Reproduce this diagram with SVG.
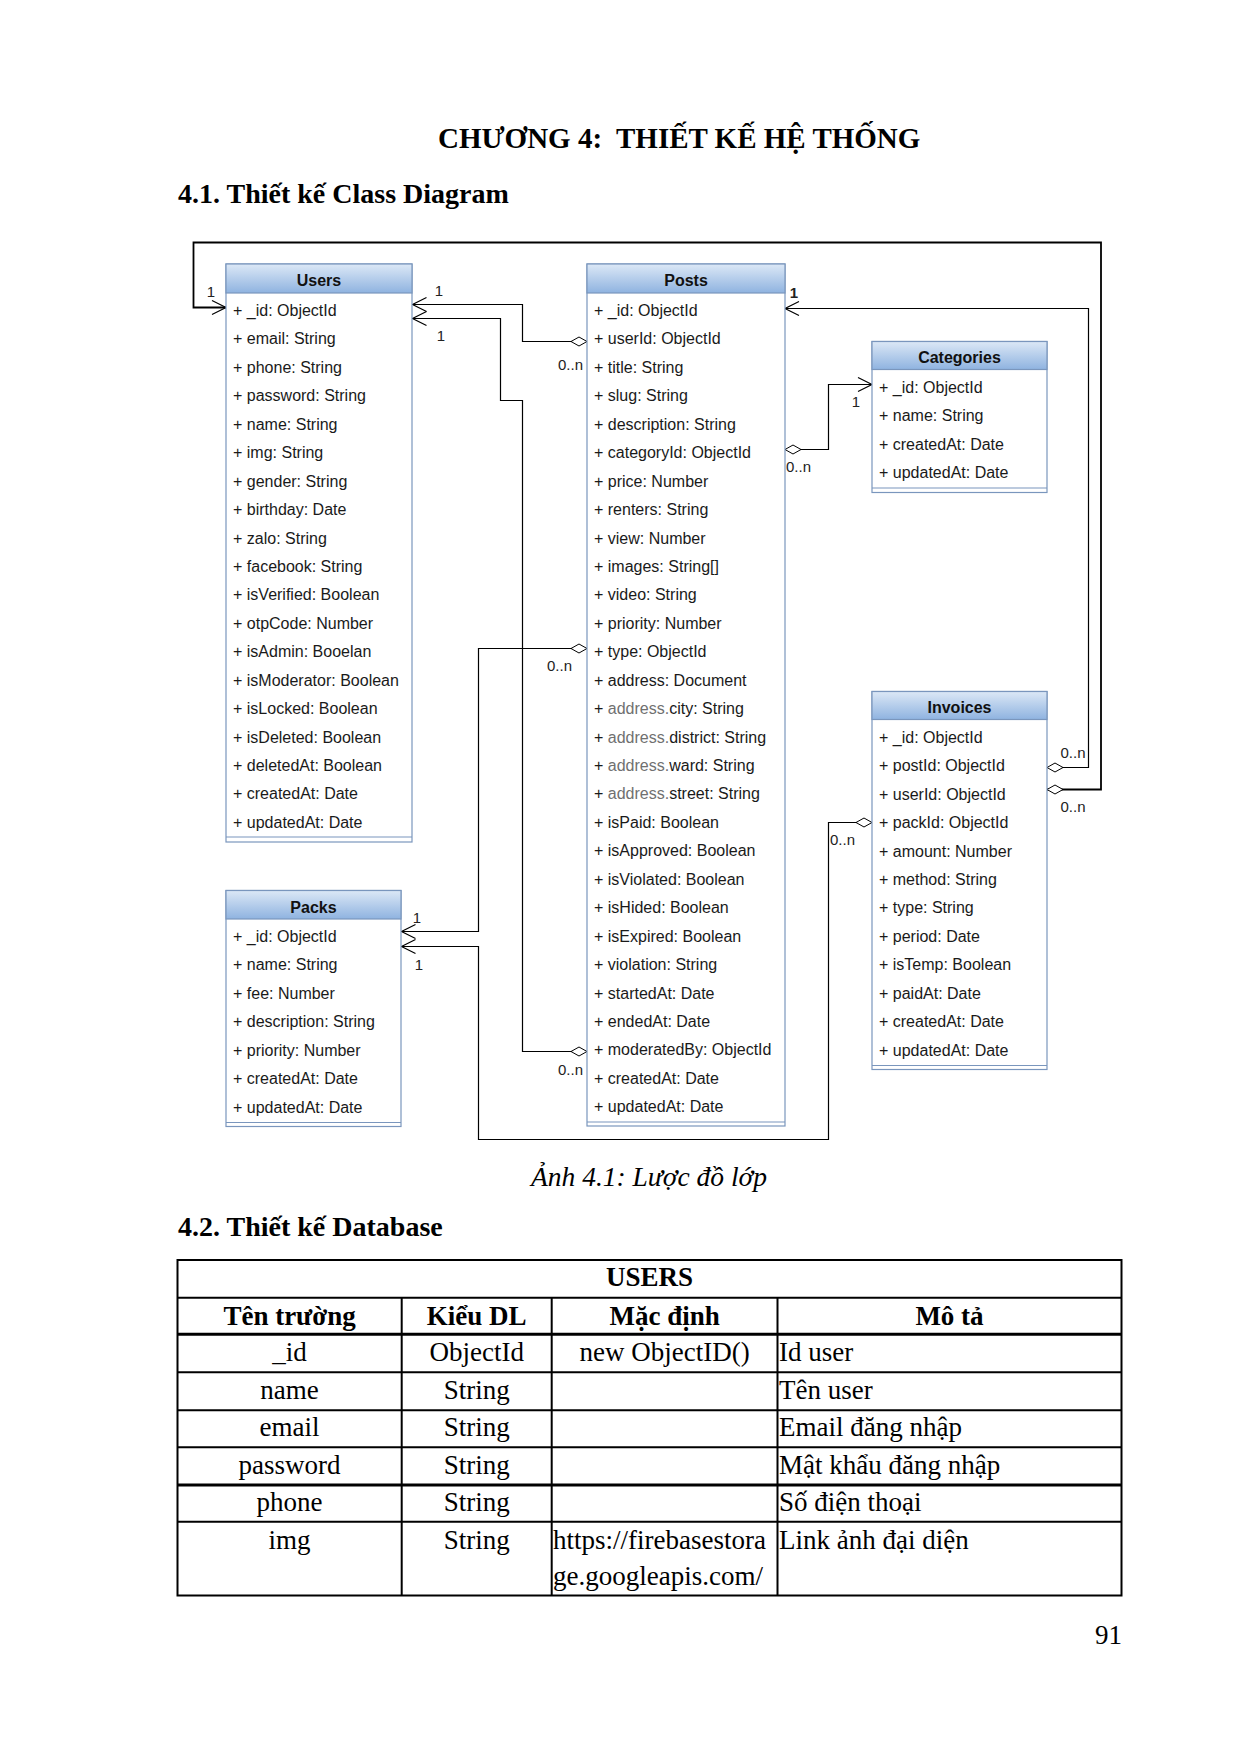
<svg xmlns="http://www.w3.org/2000/svg" width="1240" height="1754" viewBox="0 0 1240 1754">
<defs>
<linearGradient id="hdr" x1="0" y1="0" x2="0" y2="1">
<stop offset="0" stop-color="#dce8f6"/>
<stop offset="1" stop-color="#8fb3e0"/>
</linearGradient>
<marker id="arrow" markerUnits="userSpaceOnUse" markerWidth="18" markerHeight="18" viewBox="0 0 18 18" refX="15" refY="9" orient="auto">
<path d="M1,2 L15,9 L1,16" fill="none" stroke="#000" stroke-width="1.2"/>
</marker>
<marker id="diamond" markerUnits="userSpaceOnUse" markerWidth="20" markerHeight="12" viewBox="0 0 20 12" refX="1" refY="6" orient="auto">
<path d="M1,6 L9,1.5 L17,6 L9,10.5 Z" fill="#fff" stroke="#000" stroke-width="1"/>
</marker>
</defs>
<style>
.box{fill:#fff;stroke:#7a96bd;stroke-width:1.2}
.hd{fill:url(#hdr);stroke:#7a96bd;stroke-width:1.2}
.sep{stroke:#7a96bd;stroke-width:1.2}
.cn{font-family:"Liberation Sans",Arial,sans-serif;font-size:16px;font-weight:bold;fill:#111;text-anchor:middle}
.at{font-family:"Liberation Sans",Arial,sans-serif;font-size:16px;fill:#1a1a1a}
.gr{fill:#707070}
.ml{font-family:"Liberation Sans",Arial,sans-serif;font-size:15px;fill:#222}
.con{fill:none;stroke:#000;stroke-width:1.2;marker-start:url(#diamond);marker-end:url(#arrow)}
.h1{font-family:"Liberation Serif","Times New Roman",serif;font-size:29px;font-weight:bold;fill:#000}
.h2{font-family:"Liberation Serif","Times New Roman",serif;font-size:28px;font-weight:bold;fill:#000}
.cap{font-family:"Liberation Serif","Times New Roman",serif;font-size:27.5px;font-style:italic;fill:#000;text-anchor:middle}
.tb{font-family:"Liberation Serif","Times New Roman",serif;font-size:27px;fill:#000}
.tbb{font-family:"Liberation Serif","Times New Roman",serif;font-size:27px;font-weight:bold;fill:#000;text-anchor:middle}
.c{text-anchor:middle}
.tl{stroke:#000;stroke-width:2;fill:none}
.tl3{stroke:#000;stroke-width:3;fill:none}
</style>
<rect width="1240" height="1754" fill="#fff"/>

<text class="h1" x="438" y="148">CHƯƠNG 4:&#160; THIẾT KẾ HỆ THỐNG</text>
<text class="h2" x="178" y="203">4.1. Thiết kế Class Diagram</text>

<g id="connectors">
<path class="con" d="M1047,789.5 H1101 V242.5 H193.5 V307.5 H226" style="stroke-width:1.8"/>
<path class="con" d="M1047,767.5 H1088.5 V308.5 H785"/>
<path class="con" d="M587,341.5 H522.5 V304.5 H412.5"/>
<path class="con" d="M587,1051.5 H522.5 V400.5 H500.5 V318.5 H412.5"/>
<path class="con" d="M587,648.5 H478.5 V931.5 H401.5"/>
<path class="con" d="M872,822.5 H828.5 V1139.5 H478.5 V946.5 H401.5"/>
<path class="con" d="M785,449.5 H828.5 V384.5 H872"/>
<text class="ml c" x="211" y="297">1</text>
<text class="ml c" x="439" y="295.5">1</text>
<text class="ml c" x="441" y="341">1</text>
<text class="ml" x="583" y="369.5" text-anchor="end">0..n</text>
<text class="ml c" x="794" y="297.5" font-weight="bold">1</text>
<text class="ml c" x="856" y="407">1</text>
<text class="ml" x="786" y="472">0..n</text>
<text class="ml c" x="559.5" y="671">0..n</text>
<text class="ml c" x="1073" y="757.5">0..n</text>
<text class="ml c" x="1073" y="812">0..n</text>
<text class="ml" x="830" y="844.5">0..n</text>
<text class="ml c" x="417" y="922.5">1</text>
<text class="ml c" x="419" y="969.5">1</text>
<text class="ml" x="583" y="1074.5" text-anchor="end">0..n</text>
</g>

<g id="users">
<rect class="box" x="226" y="264" width="186" height="578"/>
<rect class="hd" x="226" y="264" width="186" height="29"/>
<line class="sep" x1="226" y1="837" x2="412" y2="837"/>
<text class="cn" x="319" y="286">Users</text>
<text class="at" x="233" y="316">+ _id: ObjectId</text>
<text class="at" x="233" y="344.44">+ email: String</text>
<text class="at" x="233" y="372.88">+ phone: String</text>
<text class="at" x="233" y="401.32">+ password: String</text>
<text class="at" x="233" y="429.76">+ name: String</text>
<text class="at" x="233" y="458.2">+ img: String</text>
<text class="at" x="233" y="486.64">+ gender: String</text>
<text class="at" x="233" y="515.08">+ birthday: Date</text>
<text class="at" x="233" y="543.52">+ zalo: String</text>
<text class="at" x="233" y="571.96">+ facebook: String</text>
<text class="at" x="233" y="600.4">+ isVerified: Boolean</text>
<text class="at" x="233" y="628.84">+ otpCode: Number</text>
<text class="at" x="233" y="657.28">+ isAdmin: Booelan</text>
<text class="at" x="233" y="685.72">+ isModerator: Boolean</text>
<text class="at" x="233" y="714.16">+ isLocked: Boolean</text>
<text class="at" x="233" y="742.6">+ isDeleted: Boolean</text>
<text class="at" x="233" y="771.04">+ deletedAt: Boolean</text>
<text class="at" x="233" y="799.48">+ createdAt: Date</text>
<text class="at" x="233" y="827.92">+ updatedAt: Date</text>
</g>

<g id="posts">
<rect class="box" x="587" y="264" width="198" height="862"/>
<rect class="hd" x="587" y="264" width="198" height="29"/>
<line class="sep" x1="587" y1="1122" x2="785" y2="1122"/>
<text class="cn" x="686" y="286">Posts</text>
<text class="at" x="594" y="316">+ _id: ObjectId</text>
<text class="at" x="594" y="344.44">+ userId: ObjectId</text>
<text class="at" x="594" y="372.88">+ title: String</text>
<text class="at" x="594" y="401.32">+ slug: String</text>
<text class="at" x="594" y="429.76">+ description: String</text>
<text class="at" x="594" y="458.2">+ categoryId: ObjectId</text>
<text class="at" x="594" y="486.64">+ price: Number</text>
<text class="at" x="594" y="515.08">+ renters: String</text>
<text class="at" x="594" y="543.52">+ view: Number</text>
<text class="at" x="594" y="571.96">+ images: String[]</text>
<text class="at" x="594" y="600.4">+ video: String</text>
<text class="at" x="594" y="628.84">+ priority: Number</text>
<text class="at" x="594" y="657.28">+ type: ObjectId</text>
<text class="at" x="594" y="685.72">+ address: Document</text>
<text class="at" x="594" y="714.16">+ <tspan class="gr">address.</tspan>city: String</text>
<text class="at" x="594" y="742.6">+ <tspan class="gr">address.</tspan>district: String</text>
<text class="at" x="594" y="771.04">+ <tspan class="gr">address.</tspan>ward: String</text>
<text class="at" x="594" y="799.48">+ <tspan class="gr">address.</tspan>street: String</text>
<text class="at" x="594" y="827.92">+ isPaid: Boolean</text>
<text class="at" x="594" y="856.36">+ isApproved: Boolean</text>
<text class="at" x="594" y="884.8">+ isViolated: Boolean</text>
<text class="at" x="594" y="913.24">+ isHided: Boolean</text>
<text class="at" x="594" y="941.68">+ isExpired: Boolean</text>
<text class="at" x="594" y="970.12">+ violation: String</text>
<text class="at" x="594" y="998.56">+ startedAt: Date</text>
<text class="at" x="594" y="1027">+ endedAt: Date</text>
<text class="at" x="594" y="1055.44">+ moderatedBy: ObjectId</text>
<text class="at" x="594" y="1083.88">+ createdAt: Date</text>
<text class="at" x="594" y="1112.32">+ updatedAt: Date</text>
</g>

<g id="categories">
<rect class="box" x="872" y="341.5" width="175" height="151"/>
<rect class="hd" x="872" y="341.5" width="175" height="28"/>
<line class="sep" x1="872" y1="488" x2="1047" y2="488"/>
<text class="cn" x="959.5" y="363">Categories</text>
<text class="at" x="879" y="392.7">+ _id: ObjectId</text>
<text class="at" x="879" y="421.1">+ name: String</text>
<text class="at" x="879" y="449.6">+ createdAt: Date</text>
<text class="at" x="879" y="478">+ updatedAt: Date</text>
</g>

<g id="invoices">
<rect class="box" x="872" y="691.5" width="175" height="378"/>
<rect class="hd" x="872" y="691.5" width="175" height="28"/>
<line class="sep" x1="872" y1="1065.5" x2="1047" y2="1065.5"/>
<text class="cn" x="959.5" y="713">Invoices</text>
<text class="at" x="879" y="742.7">+ _id: ObjectId</text>
<text class="at" x="879" y="771.1">+ postId: ObjectId</text>
<text class="at" x="879" y="799.6">+ userId: ObjectId</text>
<text class="at" x="879" y="828">+ packId: ObjectId</text>
<text class="at" x="879" y="856.5">+ amount: Number</text>
<text class="at" x="879" y="884.9">+ method: String</text>
<text class="at" x="879" y="913.3">+ type: String</text>
<text class="at" x="879" y="941.8">+ period: Date</text>
<text class="at" x="879" y="970.2">+ isTemp: Boolean</text>
<text class="at" x="879" y="998.7">+ paidAt: Date</text>
<text class="at" x="879" y="1027.1">+ createdAt: Date</text>
<text class="at" x="879" y="1055.5">+ updatedAt: Date</text>
</g>

<g id="packs">
<rect class="box" x="226" y="890.5" width="175" height="236"/>
<rect class="hd" x="226" y="890.5" width="175" height="28.5"/>
<line class="sep" x1="226" y1="1122.5" x2="401" y2="1122.5"/>
<text class="cn" x="313.5" y="912.5">Packs</text>
<text class="at" x="233" y="942">+ _id: ObjectId</text>
<text class="at" x="233" y="970.4">+ name: String</text>
<text class="at" x="233" y="998.9">+ fee: Number</text>
<text class="at" x="233" y="1027.3">+ description: String</text>
<text class="at" x="233" y="1055.8">+ priority: Number</text>
<text class="at" x="233" y="1084.2">+ createdAt: Date</text>
<text class="at" x="233" y="1112.6">+ updatedAt: Date</text>
</g>

<text class="cap" x="649" y="1186">Ảnh 4.1: Lược đồ lớp</text>
<text class="h2" x="178" y="1236">4.2. Thiết kế Database</text>

<g id="users-table">
<rect class="tl" x="177.5" y="1260" width="944" height="335.5"/>
<line class="tl" x1="177.5" y1="1297.7" x2="1121.5" y2="1297.7"/>
<line class="tl3" x1="177.5" y1="1334.3" x2="1121.5" y2="1334.3"/>
<line class="tl" x1="177.5" y1="1372.3" x2="1121.5" y2="1372.3"/>
<line class="tl" x1="177.5" y1="1410.3" x2="1121.5" y2="1410.3"/>
<line class="tl" x1="177.5" y1="1447.3" x2="1121.5" y2="1447.3"/>
<line class="tl3" x1="177.5" y1="1485" x2="1121.5" y2="1485"/>
<line class="tl" x1="177.5" y1="1521.7" x2="1121.5" y2="1521.7"/>
<line class="tl" x1="401.7" y1="1297.7" x2="401.7" y2="1595.5"/>
<line class="tl" x1="551.7" y1="1297.7" x2="551.7" y2="1595.5"/>
<line class="tl" x1="777.5" y1="1297.7" x2="777.5" y2="1595.5"/>
<text class="tbb" x="649.5" y="1286">USERS</text>
<text class="tbb" x="289.6" y="1324.5">Tên trường</text>
<text class="tbb" x="476.7" y="1324.5">Kiểu DL</text>
<text class="tbb" x="664.6" y="1324.5">Mặc định</text>
<text class="tbb" x="949.5" y="1324.5">Mô tả</text>
<text class="tb c" x="289.6" y="1360.5">_id</text>
<text class="tb c" x="476.7" y="1360.5">ObjectId</text>
<text class="tb c" x="664.6" y="1360.5">new ObjectID()</text>
<text class="tb" x="779" y="1360.5">Id user</text>
<text class="tb c" x="289.6" y="1398.5">name</text>
<text class="tb c" x="476.7" y="1398.5">String</text>
<text class="tb" x="779" y="1398.5">Tên user</text>
<text class="tb c" x="289.6" y="1436">email</text>
<text class="tb c" x="476.7" y="1436">String</text>
<text class="tb" x="779" y="1436">Email đăng nhập</text>
<text class="tb c" x="289.6" y="1473.5">password</text>
<text class="tb c" x="476.7" y="1473.5">String</text>
<text class="tb" x="779" y="1473.5">Mật khẩu đăng nhập</text>
<text class="tb c" x="289.6" y="1510.5">phone</text>
<text class="tb c" x="476.7" y="1510.5">String</text>
<text class="tb" x="779" y="1510.5">Số điện thoại</text>
<text class="tb c" x="289.6" y="1549">img</text>
<text class="tb c" x="476.7" y="1549">String</text>
<text class="tb" x="553" y="1549">https://firebasestora</text>
<text class="tb" x="553" y="1585">ge.googleapis.com/</text>
<text class="tb" x="779" y="1549">Link ảnh đại diện</text>
</g>

<text class="tb" x="1122" y="1644" text-anchor="end">91</text>
</svg>
